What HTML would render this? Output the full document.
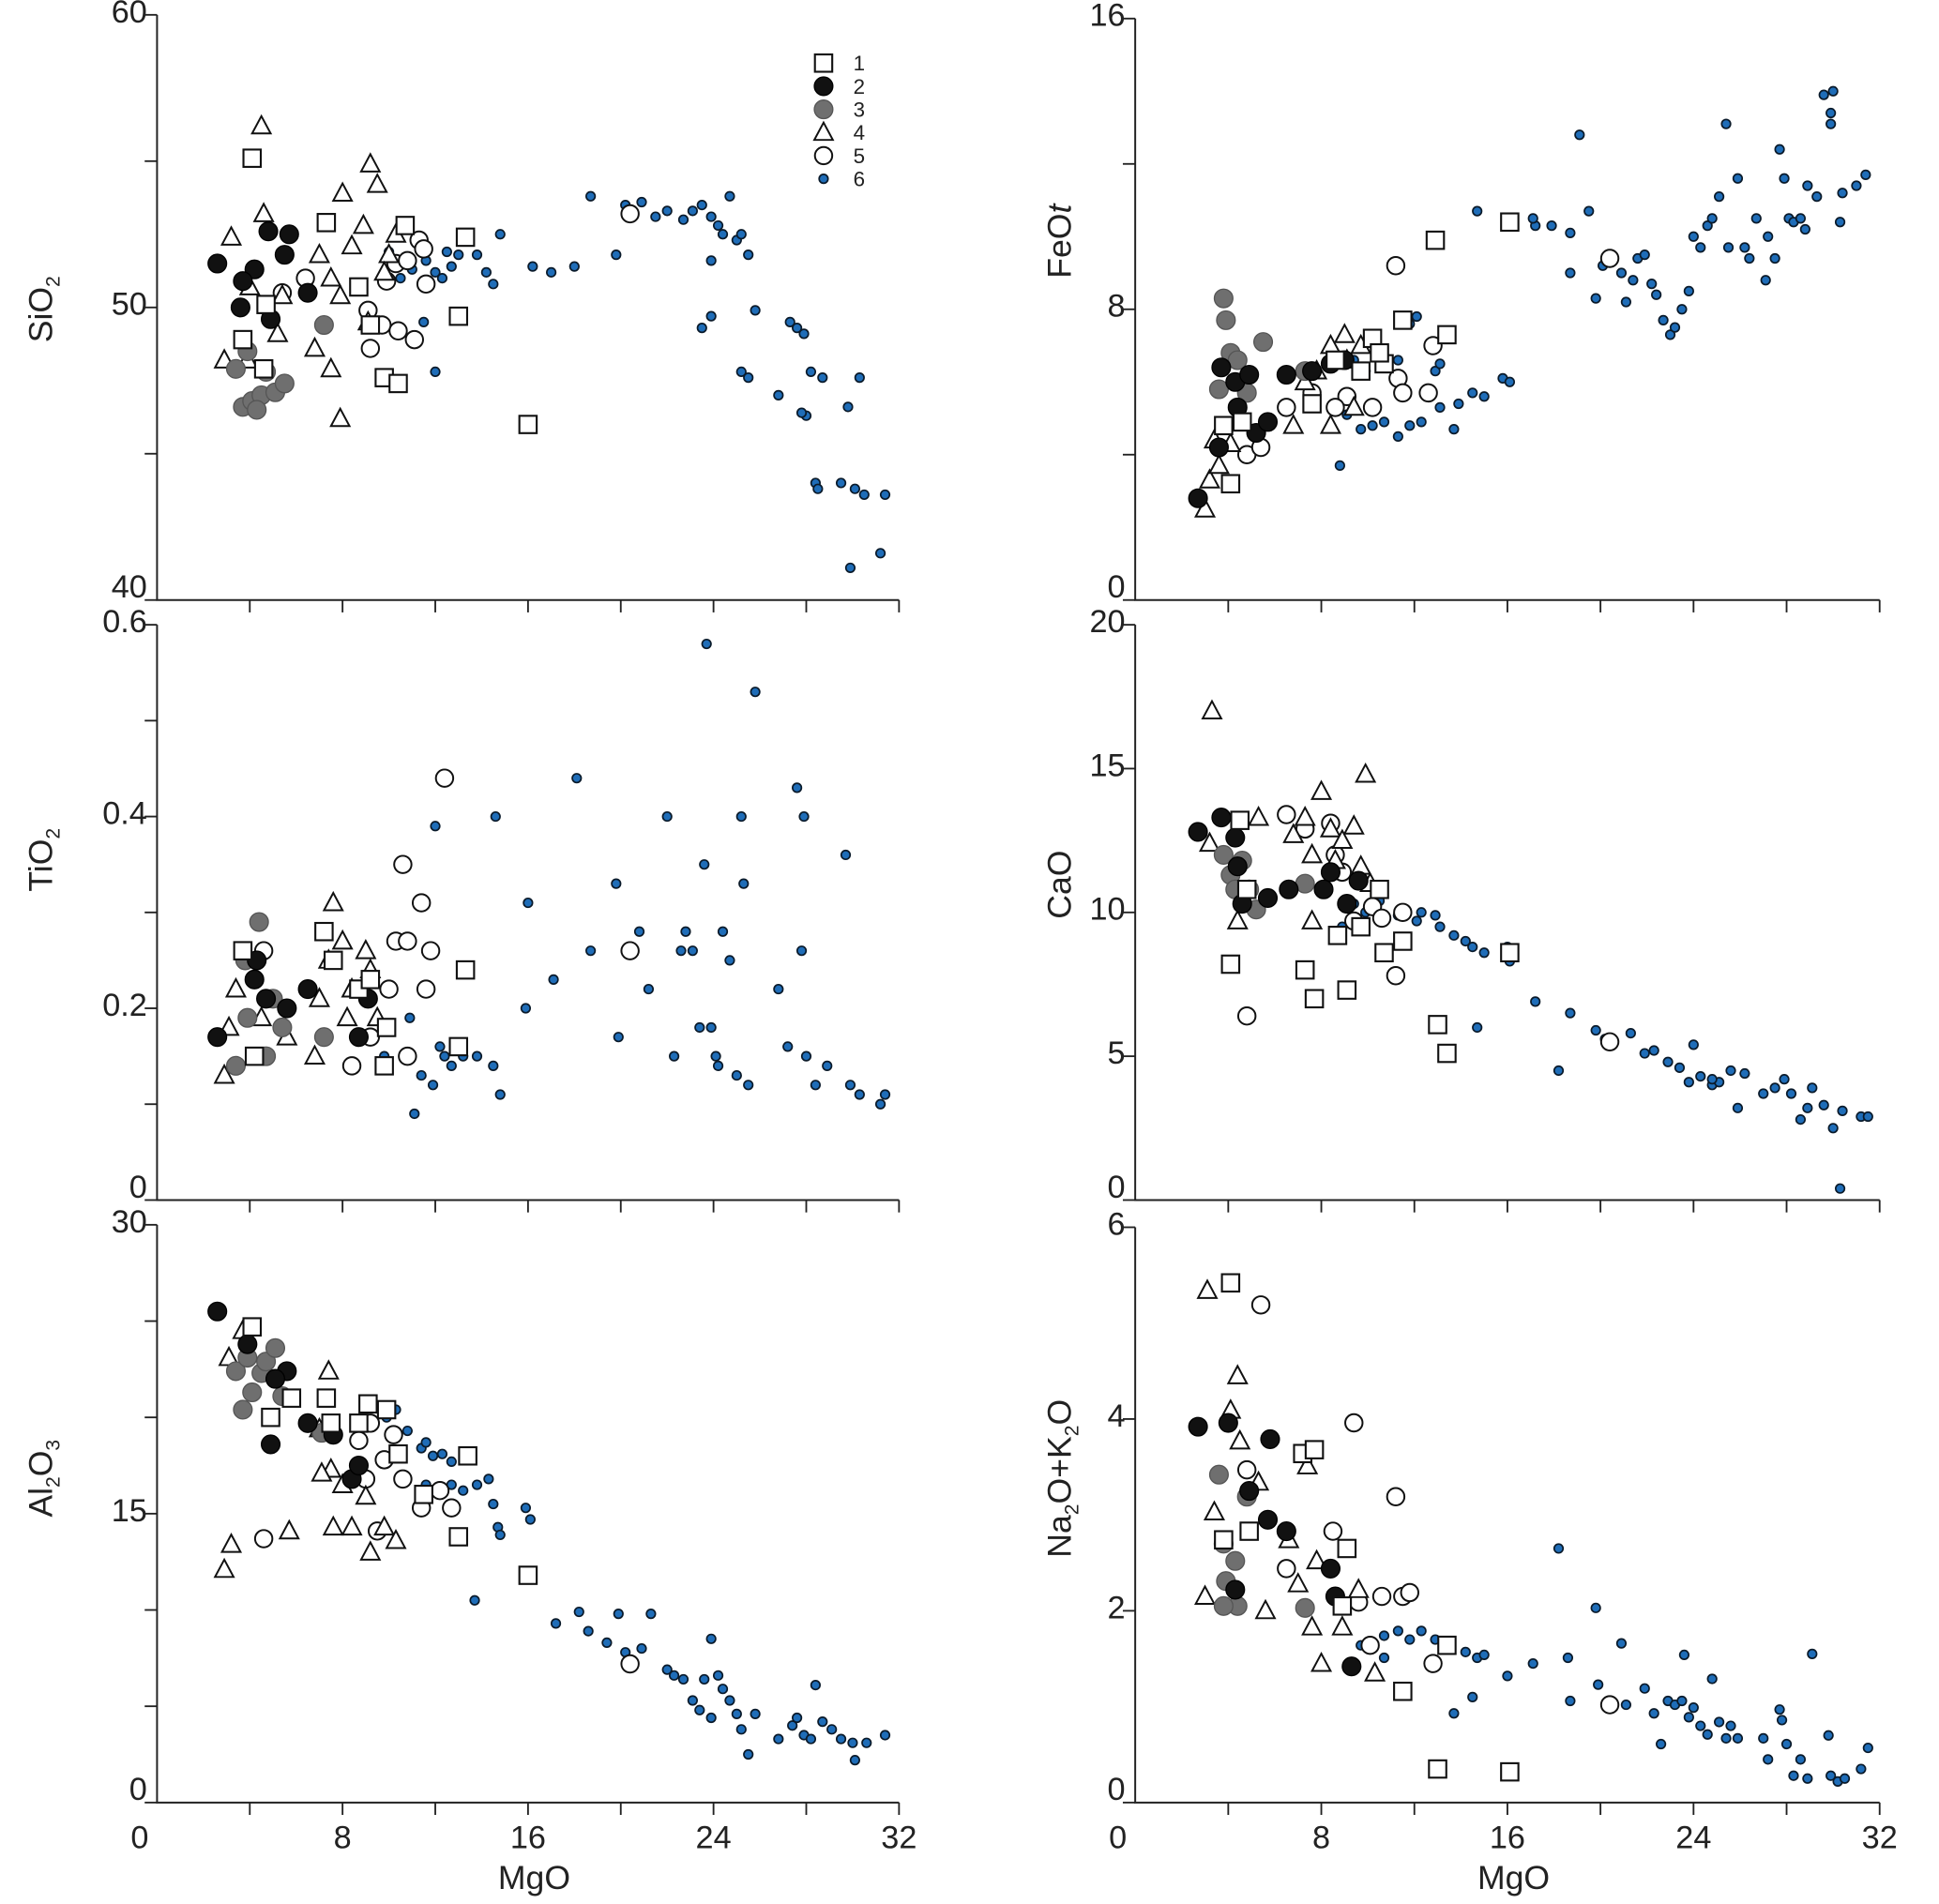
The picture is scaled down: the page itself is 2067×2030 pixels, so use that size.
<!DOCTYPE html>
<html><head><meta charset="utf-8"><style>
html,body{margin:0;padding:0;background:#fff}
svg{display:block}
text{font-family:"Liberation Sans",Arial,sans-serif;fill:#222}
</style></head><body>
<svg id="chart" width="2067" height="2030" viewBox="0 0 1568 1539" preserveAspectRatio="none" xmlns="http://www.w3.org/2000/svg"></svg>
<script>
// ---------- data (MgO, oxide) ----------
const sio2_s1=[[4.1,55.1],[4.7,50.1],[3.7,48.9],[4.6,47.9],[7.3,52.9],[8.7,50.7],[9.2,49.4],[9.8,47.6],[10.4,47.4],[10.7,52.8],[13.0,49.7],[13.3,52.4],[16.0,46.0]];
const sio2_s2=[[2.6,51.5],[3.6,50.0],[4.2,51.3],[4.8,52.6],[4.9,49.6],[5.5,51.8],[5.7,52.5],[6.5,50.5],[3.7,50.9]];
const sio2_s3=[[3.4,47.9],[3.7,46.6],[4.1,46.8],[4.5,47.0],[4.7,47.8],[5.1,47.1],[5.5,47.4],[3.9,48.5],[7.2,49.4],[4.3,46.5]];
const sio2_s4=[[2.9,48.2],[3.2,52.4],[4.5,56.2],[4.6,53.2],[4.0,50.7],[3.9,48.2],[5.2,49.1],[5.4,50.4],[6.8,48.6],[7.5,47.9],[7.9,46.2],[8.0,53.9],[9.2,54.9],[9.5,54.2],[7.0,51.8],[7.5,51.0],[8.4,52.1],[8.9,52.8],[9.1,49.5],[10.0,51.8],[10.3,52.5],[7.9,50.4],[9.8,51.2]];
const sio2_s5=[[5.4,50.5],[6.4,51.0],[9.1,49.9],[9.2,48.6],[9.7,49.4],[10.4,49.2],[11.1,48.9],[10.3,51.5],[10.8,51.6],[11.3,52.3],[11.5,52.0],[11.6,50.8],[20.4,53.2],[9.9,50.9]];
const sio2_s6=[[11.6,51.6],[12.0,51.2],[12.3,51.0],[12.7,51.4],[13.0,51.8],[13.4,52.3],[13.8,51.8],[14.2,51.2],[14.5,50.8],[14.8,52.5],[16.2,51.4],[17.0,51.2],[18.0,51.4],[18.7,53.8],[19.8,51.8],[20.2,53.5],[20.9,53.6],[21.5,53.1],[22.0,53.3],[22.7,53.0],[23.1,53.3],[23.5,53.5],[23.9,53.1],[24.2,52.8],[24.4,52.5],[24.7,53.8],[25.0,52.3],[25.2,52.5],[25.5,51.8],[23.9,51.6],[23.5,49.3],[23.9,49.7],[25.8,49.9],[25.2,47.8],[25.5,47.6],[26.8,47.0],[27.3,49.5],[27.6,49.3],[27.9,49.1],[28.2,47.8],[28.7,47.6],[28.0,46.3],[27.8,46.4],[28.4,44.0],[28.5,43.8],[29.5,44.0],[29.8,46.6],[30.3,47.6],[30.1,43.8],[30.5,43.6],[29.9,41.1],[31.2,41.6],[31.4,43.6],[10.5,51.0],[11.0,51.3],[10.0,51.9],[12.0,47.8],[11.5,49.5],[12.5,51.9]];

const feo_s1=[[4.1,3.2],[3.8,4.8],[4.6,4.9],[7.6,5.4],[10.2,7.2],[10.7,6.5],[11.5,7.7],[12.9,9.9],[13.4,7.3],[16.1,10.4],[9.7,6.3],[8.6,6.6],[10.5,6.8]];
const feo_s2=[[2.7,2.8],[3.7,6.4],[4.3,6.0],[4.9,6.2],[4.4,5.3],[5.2,4.6],[5.7,4.9],[6.5,6.2],[7.6,6.3],[8.4,6.5],[9.0,6.6],[3.6,4.2]];
const feo_s3=[[3.8,8.3],[3.9,7.7],[4.1,6.8],[4.4,6.6],[3.6,5.8],[5.5,7.1],[7.3,6.3],[4.8,5.7]];
const feo_s4=[[3.0,2.5],[3.2,3.3],[3.6,3.7],[3.4,4.4],[4.1,4.3],[6.8,4.8],[7.3,6.0],[7.8,6.3],[8.4,7.0],[9.0,7.3],[9.1,6.6],[8.4,4.8],[9.4,5.3],[9.7,7.0]];
const feo_s5=[[4.8,4.0],[5.4,4.2],[6.5,5.3],[7.6,5.7],[9.1,5.6],[10.2,5.3],[11.2,9.2],[11.3,6.1],[11.5,5.7],[12.6,5.7],[12.8,7.0],[20.4,9.4],[8.6,5.3]];
const feo_s6=[[8.8,3.7],[9.7,4.7],[10.2,4.8],[10.7,4.9],[11.3,4.5],[11.8,4.8],[12.3,4.9],[13.1,5.3],[13.7,4.7],[13.9,5.4],[14.5,5.7],[15.0,5.6],[15.8,6.1],[16.1,6.0],[11.3,6.6],[11.8,7.6],[12.9,6.3],[13.1,6.5],[9.1,5.1],[9.4,6.6],[9.9,6.3],[12.1,7.8],[14.7,10.7],[17.2,10.3],[17.9,10.3],[18.7,10.1],[18.7,9.0],[19.5,10.7],[19.8,8.3],[20.1,9.2],[20.9,9.0],[21.1,8.2],[21.4,8.8],[21.6,9.4],[21.9,9.5],[22.2,8.7],[22.4,8.4],[22.7,7.7],[23.0,7.3],[23.2,7.5],[23.5,8.0],[23.8,8.5],[24.0,10.0],[24.3,9.7],[24.6,10.3],[24.8,10.5],[25.1,11.1],[25.4,13.1],[25.5,9.7],[25.9,11.6],[26.2,9.7],[26.4,9.4],[26.7,10.5],[27.1,8.8],[27.2,10.0],[27.5,9.4],[27.7,12.4],[27.9,11.6],[28.1,10.5],[28.3,10.4],[28.6,10.5],[28.8,10.2],[28.9,11.4],[29.3,11.1],[29.6,13.9],[29.9,13.4],[29.9,13.1],[30.4,11.2],[31.0,11.4],[31.4,11.7],[30.0,14.0],[30.3,10.4],[19.1,12.8],[17.1,10.5]];

const tio2_s1=[[3.7,0.26],[7.2,0.28],[7.6,0.25],[8.7,0.22],[9.2,0.23],[9.8,0.14],[9.9,0.18],[13.3,0.24],[13.0,0.16],[4.2,0.15]];
const tio2_s2=[[2.6,0.17],[4.2,0.23],[4.3,0.25],[4.7,0.21],[5.6,0.20],[6.5,0.22],[8.7,0.17],[9.1,0.21]];
const tio2_s3=[[3.4,0.14],[3.9,0.19],[4.4,0.29],[3.8,0.25],[4.7,0.15],[5.4,0.18],[5.0,0.21],[7.2,0.17]];
const tio2_s4=[[2.9,0.13],[3.1,0.18],[3.4,0.22],[4.5,0.19],[5.6,0.17],[6.8,0.15],[7.0,0.21],[7.6,0.31],[7.4,0.25],[8.0,0.27],[8.4,0.22],[9.0,0.26],[9.2,0.24],[9.5,0.19],[8.2,0.19]];
const tio2_s5=[[4.6,0.26],[8.4,0.14],[9.2,0.17],[10.0,0.22],[10.3,0.27],[10.8,0.27],[10.6,0.35],[11.4,0.31],[11.8,0.26],[11.6,0.22],[12.4,0.44],[10.8,0.15],[20.4,0.26]];
const tio2_s6=[[11.1,0.09],[11.4,0.13],[11.9,0.12],[12.2,0.16],[12.4,0.15],[12.7,0.14],[13.2,0.15],[13.8,0.15],[14.5,0.14],[14.8,0.11],[14.6,0.40],[12.0,0.39],[15.9,0.20],[16.0,0.31],[17.1,0.23],[18.1,0.44],[18.7,0.26],[19.8,0.33],[19.9,0.17],[20.8,0.28],[21.2,0.22],[22.0,0.40],[22.3,0.15],[22.6,0.26],[22.8,0.28],[23.1,0.26],[23.4,0.18],[23.6,0.35],[23.7,0.58],[23.9,0.18],[24.1,0.15],[24.2,0.14],[24.4,0.28],[24.7,0.25],[25.0,0.13],[25.2,0.40],[25.3,0.33],[25.5,0.12],[25.8,0.53],[26.8,0.22],[27.2,0.16],[27.6,0.43],[27.8,0.26],[27.9,0.40],[28.0,0.15],[28.4,0.12],[28.9,0.14],[29.7,0.36],[29.9,0.12],[30.3,0.11],[31.2,0.10],[31.4,0.11],[9.8,0.15],[10.9,0.19]];

const cao_s1=[[4.1,8.2],[4.5,13.2],[4.8,10.8],[7.3,8.0],[7.7,7.0],[8.7,9.2],[9.1,7.3],[9.7,9.5],[10.5,10.8],[10.7,8.6],[11.5,9.0],[13.0,6.1],[13.4,5.1],[16.1,8.6]];
const cao_s2=[[2.7,12.8],[3.7,13.3],[4.3,12.6],[4.4,11.6],[4.6,10.3],[5.7,10.5],[6.6,10.8],[8.1,10.8],[8.4,11.4],[9.1,10.3],[9.6,11.1]];
const cao_s3=[[3.8,12.0],[4.1,11.3],[4.6,11.8],[4.9,10.8],[5.2,10.1],[7.3,11.0],[4.3,10.8]];
const cao_s4=[[3.3,17.0],[3.2,12.4],[4.4,9.7],[5.3,13.3],[6.8,12.7],[7.3,13.3],[7.6,12.0],[8.0,14.2],[8.4,12.9],[8.9,12.5],[9.4,13.0],[9.9,14.8],[7.6,9.7],[8.6,11.8],[9.7,11.6],[10.1,11.0]];
const cao_s5=[[4.8,6.4],[6.5,13.4],[7.3,12.9],[8.4,13.1],[8.9,11.4],[9.4,9.7],[10.2,10.2],[10.6,9.8],[11.2,7.8],[11.5,10.0],[20.4,5.5],[8.6,12.0]];
const cao_s6=[[8.9,9.5],[9.4,10.3],[9.9,10.0],[10.5,10.4],[10.7,9.7],[11.3,9.9],[11.5,10.1],[12.1,9.7],[12.3,10.0],[12.9,9.9],[13.1,9.5],[13.7,9.2],[14.2,9.0],[14.5,8.8],[14.7,6.0],[15.0,8.6],[16.0,8.8],[16.1,8.3],[17.2,6.9],[18.2,4.5],[18.7,6.5],[19.8,5.9],[20.2,5.6],[21.3,5.8],[21.9,5.1],[22.3,5.2],[22.9,4.8],[23.4,4.6],[23.8,4.1],[24.0,5.4],[24.3,4.3],[24.8,4.0],[25.1,4.1],[25.6,4.5],[25.9,3.2],[26.2,4.4],[27.0,3.7],[27.5,3.9],[27.9,4.2],[28.2,3.7],[28.6,2.8],[28.9,3.2],[29.6,3.3],[30.0,2.5],[30.4,3.1],[30.3,0.4],[31.2,2.9],[31.5,2.9],[29.1,3.9],[24.8,4.2]];

const al2o3_s1=[[4.1,24.7],[4.9,20.0],[5.8,21.0],[7.3,21.0],[7.5,19.7],[9.1,20.7],[9.9,20.4],[10.4,18.1],[11.5,16.0],[13.0,13.8],[13.4,18.0],[16.0,11.8],[8.7,19.7]];
const al2o3_s2=[[2.6,25.5],[3.9,23.8],[4.9,18.6],[5.6,22.4],[6.5,19.7],[8.4,16.8],[8.7,17.5],[5.1,22.0],[7.6,19.1]];
const al2o3_s3=[[3.4,22.4],[3.7,20.4],[4.1,21.3],[4.5,22.3],[4.7,22.9],[5.1,23.6],[5.4,21.1],[7.1,19.2],[3.9,23.1]];
const al2o3_s4=[[2.9,12.1],[3.2,13.4],[3.1,23.1],[3.7,24.5],[5.7,14.1],[7.0,19.4],[7.4,22.4],[7.5,17.3],[7.6,14.3],[8.4,14.3],[9.2,13.0],[9.8,14.3],[10.3,13.6],[9.0,15.9],[8.0,16.5],[7.1,17.1]];
const al2o3_s5=[[4.6,13.7],[5.4,21.1],[8.7,18.8],[9.0,16.8],[9.5,14.1],[9.8,17.8],[10.2,19.1],[10.6,16.8],[11.4,15.3],[12.2,16.2],[12.7,15.3],[20.4,7.2],[9.2,19.7]];
const al2o3_s6=[[10.8,19.3],[11.4,18.4],[11.6,18.7],[11.9,18.0],[12.3,18.1],[12.7,17.7],[11.6,16.5],[12.2,16.2],[12.7,16.5],[13.2,16.2],[13.8,16.5],[14.3,16.8],[14.5,15.5],[14.7,14.3],[14.8,13.9],[13.7,10.5],[15.9,15.3],[16.1,14.7],[17.2,9.3],[18.2,9.9],[18.6,8.9],[19.4,8.3],[19.9,9.8],[20.2,7.8],[21.3,9.8],[20.9,8.0],[22.0,6.9],[22.3,6.6],[22.7,6.4],[23.1,5.3],[23.4,4.8],[23.6,6.4],[23.9,8.5],[24.2,6.6],[24.4,5.9],[23.9,4.4],[24.7,5.3],[25.0,4.6],[25.2,3.8],[25.5,2.5],[25.8,4.6],[26.8,3.3],[27.4,4.0],[27.6,4.4],[27.9,3.5],[28.2,3.3],[28.4,6.1],[28.7,4.2],[29.1,3.8],[29.5,3.3],[30.0,3.1],[30.1,2.2],[30.6,3.1],[31.4,3.5],[9.9,20.0],[10.3,20.4]];

const alk_s1=[[4.1,5.42],[3.8,2.74],[4.9,2.83],[7.2,3.64],[7.7,3.68],[9.1,2.65],[11.5,1.16],[13.0,0.35],[16.1,0.32],[13.4,1.64],[8.9,2.05]];
const alk_s2=[[2.7,3.92],[4.0,3.96],[5.8,3.79],[4.9,3.25],[5.7,2.95],[6.5,2.83],[8.4,2.44],[8.6,2.15],[9.3,1.42],[4.3,2.22]];
const alk_s3=[[3.6,3.42],[3.8,2.70],[3.9,2.31],[4.3,2.52],[4.4,2.05],[4.8,3.19],[7.3,2.03],[3.8,2.05]];
const alk_s4=[[3.1,5.34],[3.0,2.15],[3.4,3.03],[4.1,4.09],[4.4,4.45],[4.5,3.77],[5.3,3.34],[5.6,2.00],[6.6,2.74],[7.0,2.28],[7.4,3.51],[7.8,2.52],[8.0,1.45],[8.9,1.83],[9.6,2.22],[10.3,1.35],[7.6,1.83]];
const alk_s5=[[4.8,3.47],[5.4,5.19],[6.5,2.44],[8.5,2.83],[9.4,3.96],[9.6,2.09],[10.1,1.64],[10.6,2.15],[11.2,3.19],[11.5,2.15],[12.8,1.45],[11.8,2.19],[20.4,1.02]];
const alk_s6=[[10.7,1.74],[11.3,1.79],[11.8,1.70],[12.3,1.79],[12.9,1.70],[13.4,1.64],[13.7,0.93],[14.2,1.57],[14.5,1.10],[14.7,1.51],[15.0,1.54],[16.0,1.32],[17.1,1.45],[18.2,2.65],[18.6,1.51],[18.7,1.06],[19.8,2.03],[19.9,1.23],[20.9,1.66],[21.1,1.02],[21.9,1.19],[22.3,0.93],[22.6,0.61],[22.9,1.06],[23.2,1.02],[23.5,1.06],[23.6,1.54],[23.8,0.89],[24.0,0.99],[24.3,0.80],[24.6,0.71],[24.8,1.29],[25.1,0.84],[25.4,0.67],[25.6,0.80],[25.9,0.67],[27.0,0.67],[27.2,0.45],[27.7,0.97],[27.8,0.86],[28.0,0.61],[28.3,0.28],[28.6,0.45],[28.9,0.25],[29.1,1.55],[29.8,0.70],[29.9,0.28],[30.2,0.22],[30.5,0.25],[31.2,0.35],[31.5,0.57],[10.7,1.51],[9.7,1.64]];

const xTickLabels=[0,8,16,24,32];
const sio2Ticks=[40,50,60], feoTicks=[0,8,16], tio2Ticks=[0,0.2,0.4,0.6], caoTicks=[0,5,10,15,20], al2o3Ticks=[0,15,30], alkTicks=[0,2,4,6];
const legendLabels=["1","2","3","4","5","6"];

// ---------- drawing ----------
const NS="http://www.w3.org/2000/svg";
const svg=document.getElementById('chart');
function mk(tag,attrs,parent){const e=document.createElementNS(NS,tag);for(const k in attrs)e.setAttribute(k,attrs[k]);(parent||svg).appendChild(e);return e;}

const panels=[
 {id:'sio2',L:127,R:727,T:12,B:485,ymin:40,ymax:60,ticks:sio2Ticks,minor:5,series:[sio2_s1,sio2_s2,sio2_s3,sio2_s4,sio2_s5,sio2_s6],title:'SiO<tspan font-size="16" dy="6">2</tspan>',tx:42,ty:250,xlab:false},
 {id:'feot',L:918,R:1520,T:15,B:485,ymin:0,ymax:16,ticks:feoTicks,minor:4,series:[feo_s1,feo_s2,feo_s3,feo_s4,feo_s5,feo_s6],title:'FeO<tspan font-style="italic">t</tspan>',tx:866,ty:195,xlab:false},
 {id:'tio2',L:127,R:727,T:505,B:970,ymin:0,ymax:0.6,ticks:tio2Ticks,minor:0.1,series:[tio2_s1,tio2_s2,tio2_s3,tio2_s4,tio2_s5,tio2_s6],title:'TiO<tspan font-size="16" dy="6">2</tspan>',tx:42,ty:695,xlab:false},
 {id:'cao',L:918,R:1520,T:505,B:970,ymin:0,ymax:20,ticks:caoTicks,minor:5,series:[cao_s1,cao_s2,cao_s3,cao_s4,cao_s5,cao_s6],title:'CaO',tx:866,ty:715,xlab:false},
 {id:'al2o3',L:127,R:727,T:990,B:1457,ymin:0,ymax:30,ticks:al2o3Ticks,minor:5,series:[al2o3_s1,al2o3_s2,al2o3_s3,al2o3_s4,al2o3_s5,al2o3_s6],title:'Al<tspan font-size="16" dy="6">2</tspan><tspan dy="-6">O</tspan><tspan font-size="16" dy="6">3</tspan>',tx:42,ty:1195,xlab:true},
 {id:'alk',L:918,R:1520,T:992,B:1457,ymin:0,ymax:6,ticks:alkTicks,minor:2,series:[alk_s1,alk_s2,alk_s3,alk_s4,alk_s5,alk_s6],title:'Na<tspan font-size="16" dy="6">2</tspan><tspan dy="-6">O+K</tspan><tspan font-size="16" dy="6">2</tspan><tspan dy="-6">O</tspan>',tx:866,ty:1195,xlab:true}
];

function marker(g,k,cx,cy){
 let e;
 if(k===0){e=mk('rect',{x:cx-7,y:cy-7,width:14,height:14,fill:'#fff',stroke:'#111','stroke-width':1.6},g);}
 else if(k===1){e=mk('circle',{cx,cy,r:7.5,fill:'#111',stroke:'#000','stroke-width':1},g);}
 else if(k===2){e=mk('circle',{cx,cy,r:7.5,fill:'#6f6f6f',stroke:'#555','stroke-width':1},g);}
 else if(k===3){e=mk('polygon',{points:`${cx},${cy-8} ${cx-7.5},${cy+6} ${cx+7.5},${cy+6}`,fill:'#fff',stroke:'#111','stroke-width':1.5},g);}
 else if(k===4){e=mk('circle',{cx,cy,r:7,fill:'#fff',stroke:'#111','stroke-width':1.5},g);}
 else {e=mk('circle',{cx,cy,r:3.6,fill:'#1f6db8',stroke:'#0a1a2a','stroke-width':1.3},g);}
 return e;
}

panels.forEach(p=>{
 const g=mk('g',{});
 
 
 const xs=v=>p.L+(v/32)*(p.R-p.L);
 const ys=v=>p.B-(v-p.ymin)/(p.ymax-p.ymin)*(p.B-p.T);
 const ax=mk('path',{d:`M${p.L},${p.T}V${p.B}H${p.R}`,fill:'none',stroke:'#222','stroke-width':1.5},g);
 
 
 for(let m=4;m<=32;m+=4){mk('line',{x1:xs(m),x2:xs(m),y1:p.B,y2:p.B+10,stroke:'#222','stroke-width':1.4},g);}
 for(let v=p.ymin;v<=p.ymax+1e-9;v+=p.minor){mk('line',{x1:p.L-10,x2:p.L,y1:ys(v),y2:ys(v),stroke:'#222','stroke-width':1.4},g);}
 p.ticks.forEach(v=>{
  const t=mk('text',{x:p.L-8,y:ys(v)+(v===p.ymin?-2:6),'text-anchor':'end','font-size':26},g);
  t.textContent=String(v);
  
  
 });
 const tt=mk('text',{x:p.tx,y:p.ty,'text-anchor':'middle','font-size':27,transform:`rotate(-90 ${p.tx} ${p.ty})`},g);
 tt.innerHTML=p.title;
 
 
 if(p.xlab){
  xTickLabels.forEach(v=>{
   const t=mk('text',{x:xs(v)-(v===0?14:0),y:p.B+37,'text-anchor':'middle','font-size':26},g);
   t.textContent=String(v);
   
   
  });
  const xt=mk('text',{x:(p.L+p.R)/2+5,y:p.B+70,'text-anchor':'middle','font-size':27},g);
  xt.textContent='MgO';
  
  
 }
 [5,4,3,2,1,0].forEach(k=>{
  const sg=mk('g',{},g);
  
  
  p.series[k].forEach(d=>{
   const e=marker(sg,k,xs(d[0]),ys(d[1]));
   
   
  });
 });
});

// legend
const lg=mk('g',{});


legendLabels.forEach((lab,i)=>{
 const y=51+i*18.7;
 const e=marker(lg,i,666,y);
 
 
 const t=mk('text',{x:690,y:y+6,'font-size':17},lg);
 t.textContent=lab;
 
 
});
</script>
</body></html>
